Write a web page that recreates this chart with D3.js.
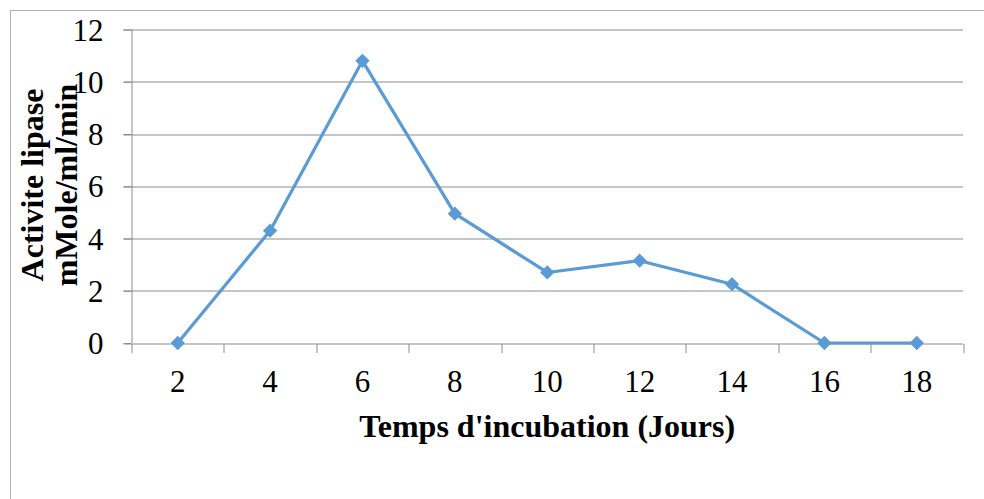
<!DOCTYPE html>
<html>
<head>
<meta charset="utf-8">
<script src="https://cdn.jsdelivr.net/npm/d3@7"></script>
<style>
  body { margin: 0; background: #fff; }
  svg text { font-family: "Liberation Serif", "Times New Roman", serif; fill: #000; }
</style>
</head>
<body>
<div id="vis"></div>
<script>
const FRAME_WIDTH = 984;
const FRAME_HEIGHT = 499;
const MARGINS = {left: 131.5, right: 21, top: 29.5, bottom: 156};

// data
const days = ["2", "4", "6", "8", "10", "12", "14", "16", "18"];
const activity = [0, 4.3, 10.8, 4.95, 2.7, 3.15, 2.25, 0, 0];
const yTicks = [0, 2, 4, 6, 8, 10, 12];

const VIS_WIDTH = FRAME_WIDTH - MARGINS.left - MARGINS.right;
const VIS_HEIGHT = FRAME_HEIGHT - MARGINS.top - MARGINS.bottom;

const FRAME = d3.select("#vis")
  .append("svg")
    .attr("width", FRAME_WIDTH)
    .attr("height", FRAME_HEIGHT);

// chart border (runs off right/bottom)
FRAME.append("rect")
  .attr("x", 10.5).attr("y", 10.5)
  .attr("width", 1000).attr("height", 600)
  .attr("fill", "none")
  .attr("stroke", "#b3b3b3")
  .attr("stroke-width", 1);

const X_SCALE = d3.scaleBand()
  .domain(days)
  .range([0, VIS_WIDTH]);

const Y_SCALE = d3.scaleLinear()
  .domain([0, 12])
  .range([VIS_HEIGHT, 0]);

const plot = FRAME.append("g")
  .attr("transform", `translate(${MARGINS.left},${MARGINS.top})`);

// horizontal gridlines
plot.selectAll(".grid")
  .data(yTicks.filter(d => d > 0))
  .enter()
  .append("line")
    .attr("x1", -8).attr("x2", VIS_WIDTH)
    .attr("y1", d => Math.round(Y_SCALE(d)) + 0.5)
    .attr("y2", d => Math.round(Y_SCALE(d)) + 0.5)
    .attr("stroke", "#8c8c8c")
    .attr("stroke-width", 1);

// y axis
const yAxis = plot.append("g")
  .call(d3.axisLeft(Y_SCALE).tickValues(yTicks).tickSize(8).tickPadding(20));
yAxis.select(".domain").attr("stroke", "#8c8c8c").attr("d", `M0.5,${VIS_HEIGHT}V0`);
yAxis.selectAll(".tick line").attr("stroke", "#8c8c8c");
yAxis.selectAll("text")
  .style("font-size", "31px")
  .attr("fill", "#000")
  .attr("dy", "0.34em");

// x axis with ticks between categories
const xAxis = plot.append("g")
  .attr("transform", `translate(0,${Math.round(VIS_HEIGHT) + 0.5})`)
  .call(d3.axisBottom(X_SCALE).tickSize(0).tickPadding(26));
xAxis.select(".domain").attr("stroke", "#8c8c8c").attr("d", `M-8,0H${VIS_WIDTH}`);
xAxis.selectAll("text")
  .style("font-size", "31px")
  .attr("fill", "#000")
  .attr("dy", "0.71em");

const bounds = [0].concat(days.map(d => X_SCALE(d) + X_SCALE.bandwidth()));
xAxis.selectAll(".sep")
  .data(bounds)
  .enter()
  .append("line")
    .attr("x1", d => Math.round(d) + 0.5).attr("x2", d => Math.round(d) + 0.5)
    .attr("y1", 0).attr("y2", 9)
    .attr("stroke", "#8c8c8c");

// line + diamonds
const cx = (d, i) => X_SCALE(days[i]) + X_SCALE.bandwidth() / 2;

plot.append("path")
  .datum(activity)
  .attr("d", d3.line().x(cx).y(d => Y_SCALE(d)))
  .attr("fill", "none")
  .attr("stroke", "#5b9bd5")
  .attr("stroke-width", 3.2)
  .attr("stroke-linejoin", "round");

plot.selectAll(".pt")
  .data(activity)
  .enter()
  .append("path")
    .attr("d", d3.symbol().type(d3.symbolDiamond2).size(130))
    .attr("transform", (d, i) => `translate(${cx(d, i)},${Y_SCALE(d)})`)
    .attr("fill", "#5b9bd5");

// axis titles
FRAME.append("text")
  .attr("x", MARGINS.left + VIS_WIDTH / 2)
  .attr("y", 437)
  .attr("text-anchor", "middle")
  .style("font-size", "32px")
  .style("font-weight", "bold")
  .text("Temps d'incubation (Jours)");

const yTitle = FRAME.append("text")
  .attr("transform", "translate(43,185) rotate(-90)")
  .attr("text-anchor", "middle")
  .style("font-size", "32px")
  .style("font-weight", "bold");
yTitle.append("tspan").attr("x", 0).attr("y", 0).text("Activite lipase");
yTitle.append("tspan").attr("x", 0).attr("y", 34).text("mMole/ml/min");
</script>
</body>
</html>
